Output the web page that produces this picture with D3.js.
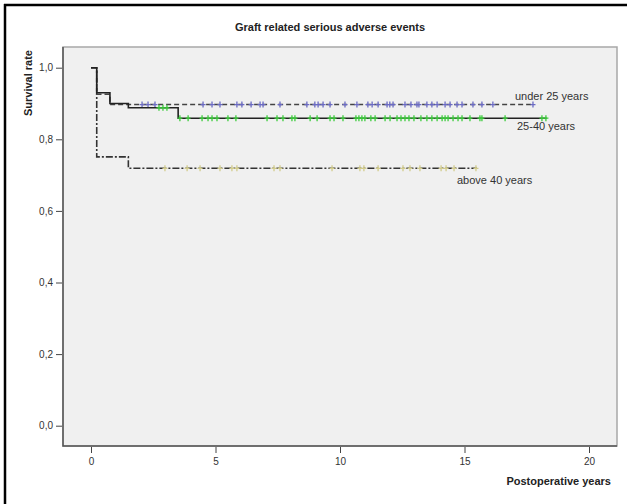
<!DOCTYPE html>
<html>
<head>
<meta charset="utf-8">
<script src="https://cdn.jsdelivr.net/npm/d3@7"></script>
<style>
  body { margin: 0; background: #fff; }
  svg { display: block; font-family: "Liberation Sans", Arial, sans-serif; }
  .tick text { font-size: 10px; fill: #333; }
</style>
</head>
<body>
<div class="chart"></div>
<script>
var svgWidth = 627;
var svgHeight = 504;

// plot box (grey area)
var box = { left: 63, top: 47, right: 617, bottom: 446 };

// Data
var groupNames = ["under 25 years", "25-40 years", "above 40 years"];

// step points (time in years, survival)
var under25Times = [0, 0.23, 0.76, 17.75];
var under25Surv  = [1.0, 0.926, 0.897, 0.897];
var mid25to40Times = [0, 0.23, 0.76, 1.5, 3.5, 18.3];
var mid25to40Surv  = [1.0, 0.930, 0.900, 0.888, 0.859, 0.859];
var above40Times = [0, 0.23, 1.5, 15.5];
var above40Surv  = [1.0, 0.751, 0.719, 0.719];

// censored cases (time in years)
var under25Censored = [2.05, 2.29, 2.57, 4.5, 4.86, 5.18, 5.86, 6.06, 6.43, 6.79, 6.91, 7.59,
  8.67, 8.99, 9.12, 9.32, 9.6, 10.2, 10.68, 11.12, 11.29, 11.53, 11.89, 12.0, 12.13, 12.61,
  12.85, 13.09, 13.17, 13.49, 13.69, 13.9, 14.22, 14.42, 14.7, 14.9, 15.34, 15.7, 16.14, 17.75];
var mid25to40Censored = [2.73, 2.89, 3.05, 3.57, 3.9, 4.46, 4.7, 4.86, 5.06, 5.5, 5.82, 7.07,
  7.47, 7.71, 8.07, 8.19, 8.8, 9.08, 9.6, 9.76, 10.12, 10.64, 10.76, 10.88, 11.0, 11.24, 11.41,
  11.81, 12.01, 12.29, 12.45, 12.61, 12.77, 12.97, 13.25, 13.49, 13.69, 13.9, 14.1, 14.22,
  14.34, 14.54, 14.74, 14.9, 15.22, 15.62, 15.7, 16.63, 18.11, 18.27];
var above40Censored = [2.97, 3.86, 4.38, 5.18, 5.66, 5.86, 7.35, 7.59, 9.68, 10.8, 10.96,
  11.53, 12.53, 12.81, 13.21, 14.06, 14.26, 14.58, 15.46];

var xTicks = [0, 5, 10, 15, 20];
var yTicks = [0, 0.2, 0.4, 0.6, 0.8, 1.0];

var series = [
  { name: groupNames[0], times: under25Times, surv: under25Surv, cens: under25Censored,
    dash: "5,3", stroke: "#444", mark: "#6b6bc4", label: [515, 100] },
  { name: groupNames[1], times: mid25to40Times, surv: mid25to40Surv, cens: mid25to40Censored,
    dash: null, stroke: "#222", mark: "#3ccc3c", label: [517, 130] },
  { name: groupNames[2], times: above40Times, surv: above40Surv, cens: above40Censored,
    dash: "7,2,2,2", stroke: "#333", mark: "#d2cc8c", label: [457, 184] }
];

var svg = d3.select(".chart")
  .append("svg")
  .attr("width", svgWidth)
  .attr("height", svgHeight);

// outer frame (left and top black lines)
svg.append("line").attr("x1", 5).attr("x2", 5).attr("y1", 4).attr("y2", svgHeight)
  .attr("stroke", "#000").attr("stroke-width", 2.5);
svg.append("line").attr("x1", 4).attr("x2", svgWidth).attr("y1", 5).attr("y2", 5)
  .attr("stroke", "#000").attr("stroke-width", 2.5);

// scales: 0 -> x 91, 20 -> x 589 ; 1.0 -> y 67.7, 0 -> y 425.7
var xPerYear = (589 - 91) / 20;
var xScale = d3.scaleLinear()
  .domain([(box.left - 91) / xPerYear, (box.right - 91) / xPerYear])
  .range([box.left, box.right]);
var yPerUnit = 425.7 - 67.7;
var yScale = d3.scaleLinear()
  .domain([(425.7 - box.bottom) / yPerUnit, (425.7 - box.top) / yPerUnit])
  .range([box.bottom, box.top]);

// plot background
svg.append("rect")
  .attr("x", box.left).attr("y", box.top)
  .attr("width", box.right - box.left).attr("height", box.bottom - box.top)
  .attr("fill", "#f0f0f0")
  .attr("stroke", "#a8a8a8").attr("stroke-width", 1.5);
svg.append("path")
  .attr("d", `M${box.left},${box.top}V${box.bottom}H${box.right}`)
  .attr("fill", "none").attr("stroke", "#555").attr("stroke-width", 1.5);

// axes
var fmt = d3.format(".1f");
var leftAxis = d3.axisLeft(yScale)
  .tickValues(yTicks)
  .tickSize(6)
  .tickPadding(3)
  .tickFormat(d => fmt(d).replace(".", ","));
var yAxisG = svg.append("g")
  .attr("transform", `translate(${box.left - 1}, 0)`)
  .call(leftAxis);
yAxisG.select(".domain").remove();
yAxisG.selectAll(".tick line").attr("stroke", "#444");

var bottomAxis = d3.axisBottom(xScale)
  .tickValues(xTicks)
  .tickSize(6)
  .tickPadding(5);
var xAxisG = svg.append("g")
  .attr("transform", `translate(0, ${box.bottom + 1})`)
  .call(bottomAxis);
xAxisG.select(".domain").remove();
xAxisG.selectAll(".tick line").attr("stroke", "#444");

// survival curves
var line = d3.line()
  .x(d => xScale(d[0]))
  .y(d => yScale(d[1]))
  .curve(d3.curveStepAfter);

function survAt(s, t) {
  var v = s.surv[0];
  s.times.forEach(function(tt, i) { if (tt <= t) v = s.surv[i]; });
  return v;
}

// draw order: dash-dot, dashed, then solid on top
[series[2], series[0], series[1]].forEach(function(s) {
  var pts = s.times.map((t, i) => [t, s.surv[i]]);
  svg.append("path")
    .datum(pts)
    .attr("d", line)
    .attr("fill", "none")
    .attr("stroke", s.stroke)
    .attr("stroke-width", 1.6)
    .attr("stroke-dasharray", s.dash);

  var marks = svg.append("g");
  s.cens.forEach(function(t) {
    var cx = xScale(t), cy = yScale(survAt(s, t));
    marks.append("path")
      .attr("d", `M${cx - 2.5},${cy}H${cx + 2.5}M${cx},${cy - 3}V${cy + 3}`)
      .attr("stroke", s.mark)
      .attr("stroke-width", 1.3)
      .attr("fill", "none");
  });
});

// curve labels
series.forEach(function(s) {
  svg.append("text")
    .attr("x", s.label[0])
    .attr("y", s.label[1])
    .attr("font-size", 11)
    .attr("fill", "#333")
    .text(s.name);
});

// titles
svg.append("text")
  .attr("x", 330).attr("y", 31)
  .attr("text-anchor", "middle")
  .attr("font-size", 11).attr("font-weight", "bold").attr("fill", "#222")
  .text("Graft related serious adverse events");

svg.append("text")
  .attr("transform", "translate(32, 50) rotate(-90)")
  .attr("text-anchor", "end")
  .attr("font-size", 11).attr("font-weight", "bold").attr("fill", "#222")
  .text("Survival rate");

svg.append("text")
  .attr("x", 611).attr("y", 485)
  .attr("text-anchor", "end")
  .attr("font-size", 11).attr("font-weight", "bold").attr("fill", "#222")
  .text("Postoperative years");
</script>
</body>
</html>
